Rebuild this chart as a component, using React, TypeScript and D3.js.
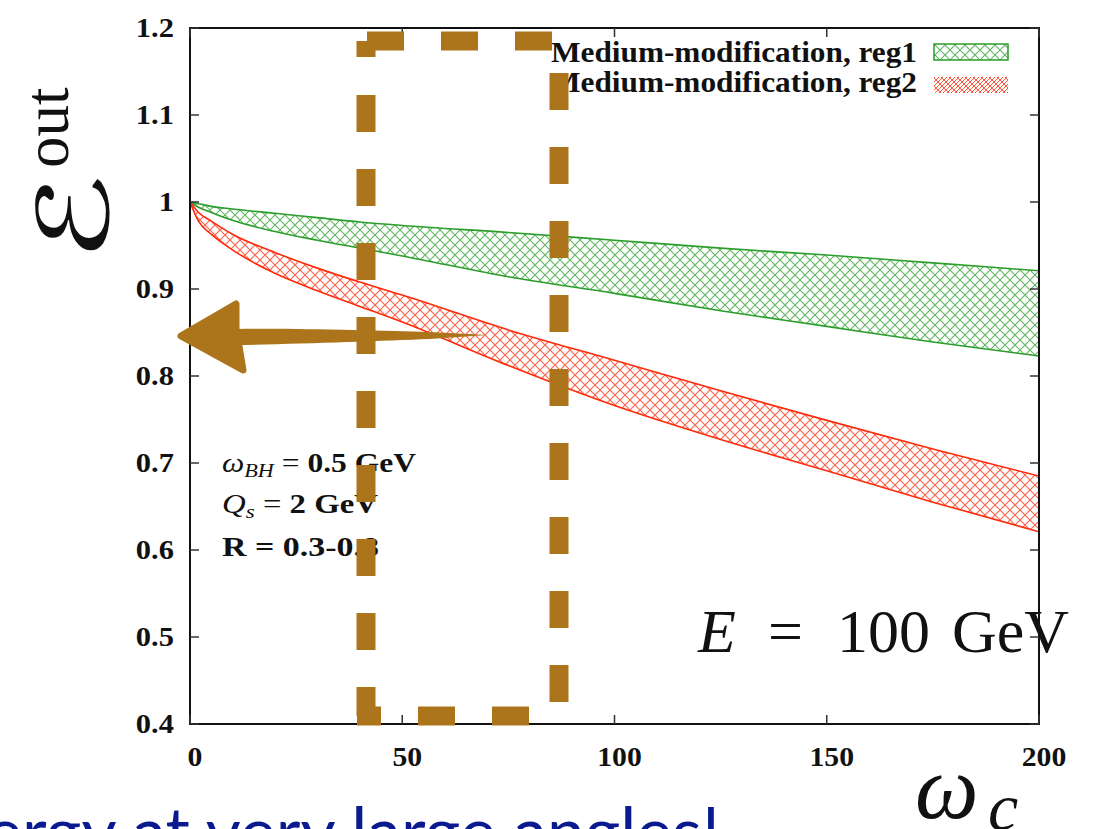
import React from "react";
import * as d3 from "d3";

// ---- data ----
const omegaC = [0, 2, 5, 10, 20, 30, 40, 50, 75, 100, 125, 150, 175, 200];
const reg1Upper = [1.0, 0.998, 0.995, 0.992, 0.987, 0.982, 0.977, 0.973, 0.965, 0.956, 0.947, 0.939, 0.93, 0.921];
const reg1Lower = [1.0, 0.994, 0.988, 0.979, 0.966, 0.956, 0.947, 0.938, 0.914, 0.895, 0.875, 0.857, 0.839, 0.823];
const reg2Upper = [1.0, 0.988, 0.978, 0.963, 0.942, 0.924, 0.908, 0.893, 0.853, 0.818, 0.783, 0.749, 0.716, 0.685];
const reg2Lower = [1.0, 0.978, 0.963, 0.945, 0.918, 0.898, 0.88, 0.862, 0.812, 0.766, 0.727, 0.691, 0.655, 0.621];

const xTicks = [0, 50, 100, 150, 200];
const yTicks = [0.4, 0.5, 0.6, 0.7, 0.8, 0.9, 1.0, 1.1, 1.2];
const legendLabels = ["Medium-modification, reg1", "Medium-modification, reg2"];

const W = 1105;
const H = 829;
const L = 190, R = 1039, T = 28, B = 724;

const GREEN = "#2a9d2a";
const RED = "#ff2a0a";
const BROWN = "#ad751b";

export default function App() {
  const x = d3.scaleLinear().domain([0, 200]).range([L, R]);
  const y = d3.scaleLinear().domain([0.4, 1.2]).range([B, T]);

  const band = (up: number[], lo: number[]) =>
    omegaC.map((v, i) => ({ x: v, u: up[i], l: lo[i] }));
  const area = d3
    .area<{ x: number; u: number; l: number }>()
    .x((d) => x(d.x))
    .y0((d) => y(d.l))
    .y1((d) => y(d.u))
    .curve(d3.curveMonotoneX);
  const lineU = d3
    .line<{ x: number; u: number; l: number }>()
    .x((d) => x(d.x))
    .y((d) => y(d.u))
    .curve(d3.curveMonotoneX);
  const lineL = d3
    .line<{ x: number; u: number; l: number }>()
    .x((d) => x(d.x))
    .y((d) => y(d.l))
    .curve(d3.curveMonotoneX);

  const b1 = band(reg1Upper, reg1Lower);
  const b2 = band(reg2Upper, reg2Lower);

  const serif = "'Liberation Serif', 'Times New Roman', serif";
  const fmtY = (v: number) => (Math.abs(v - 1) < 1e-9 ? "1" : d3.format(".1f")(v));

  return (
    <div style={{ position: "absolute", left: 0, top: 0 }}>
      <svg width={W} height={H} style={{ display: "block", background: "#fff" }}>
        <defs>
          <pattern id="hatchG" patternUnits="userSpaceOnUse" width="10" height="10">
            <path d="M0,0 L10,10 M10,0 L0,10" stroke={GREEN} strokeWidth="1.1" opacity="0.75" />
          </pattern>
          <pattern id="hatchR" patternUnits="userSpaceOnUse" width="10" height="10">
            <path d="M0,0 L10,10 M10,0 L0,10" stroke={RED} strokeWidth="1.1" opacity="0.75" />
          </pattern>
          <pattern id="hatchR2" patternUnits="userSpaceOnUse" width="8" height="8">
            <path d="M0,0 L8,8 M8,0 L0,8 M0,4 L4,0 M4,8 L8,4" stroke={RED} strokeWidth="1" opacity="0.8" />
          </pattern>
          <clipPath id="plotClip">
            <rect x={L} y={T} width={R - L} height={B - T} />
          </clipPath>
        </defs>

        {/* bands */}
        <g clipPath="url(#plotClip)">
          <path d={area(b1) || ""} fill="url(#hatchG)" />
          <path d={lineU(b1) || ""} fill="none" stroke={GREEN} strokeWidth={1.6} />
          <path d={lineL(b1) || ""} fill="none" stroke={GREEN} strokeWidth={1.6} />
          <path d={area(b2) || ""} fill="url(#hatchR)" />
          <path d={lineU(b2) || ""} fill="none" stroke={RED} strokeWidth={1.6} />
          <path d={lineL(b2) || ""} fill="none" stroke={RED} strokeWidth={1.6} />
        </g>

        {/* frame */}
        <rect x={L} y={T} width={R - L} height={B - T} fill="none" stroke="#111" strokeWidth={2} />

        {/* y ticks */}
        {yTicks.map((v) => (
          <g key={"y" + v}>
            <line x1={L} x2={L + 9} y1={y(v)} y2={y(v)} stroke="#333" strokeWidth={1.5} />
            <line x1={R - 9} x2={R} y1={y(v)} y2={y(v)} stroke="#333" strokeWidth={1.5} />
            <text
              transform={`translate(174,${y(v) + 9}) scale(1.13,1)`}
              textAnchor="end"
              fontFamily={serif}
              fontWeight="bold"
              fontSize={27}
              fill="#111"
            >
              {fmtY(v)}
            </text>
          </g>
        ))}

        {/* x ticks */}
        {xTicks.map((v) => (
          <g key={"x" + v}>
            <line x1={x(v)} x2={x(v)} y1={B} y2={B - 9} stroke="#333" strokeWidth={1.5} />
            <line x1={x(v)} x2={x(v)} y1={T} y2={T + 9} stroke="#333" strokeWidth={1.5} />
            <text
              transform={`translate(${x(v) + 5},766) scale(1.1,1)`}
              textAnchor="middle"
              fontFamily={serif}
              fontWeight="bold"
              fontSize={27}
              fill="#111"
            >
              {v}
            </text>
          </g>
        ))}

        {/* legend */}
        {legendLabels.map((lab, i) => (
          <g key={lab}>
            <text
              x={551}
              y={62 + i * 30}
              fontFamily={serif}
              fontWeight="bold"
              fontSize={30}
              fill="#111"
              textLength={366}
              lengthAdjust="spacingAndGlyphs"
            >
              {lab}
            </text>
            <rect
              x={934}
              y={44 + i * 33}
              width={74}
              height={16}
              fill={i === 0 ? "url(#hatchG)" : "url(#hatchR2)"}
              stroke={i === 0 ? GREEN : "none"}
              strokeWidth={1.5}
            />
          </g>
        ))}

        {/* parameter annotations */}
        <text x={222} y={472} fontFamily={serif} fontSize={27} fill="#111" textLength={194} lengthAdjust="spacingAndGlyphs">
          <tspan fontStyle="italic">ω</tspan>
          <tspan fontStyle="italic" fontSize={19} dy={5}>BH</tspan>
          <tspan dy={-5}> = </tspan>
          <tspan fontWeight="bold">0.5 GeV</tspan>
        </text>
        <text x={222} y={513} fontFamily={serif} fontSize={27} fill="#111" textLength={156} lengthAdjust="spacingAndGlyphs">
          <tspan fontStyle="italic">Q</tspan>
          <tspan fontStyle="italic" fontSize={19} dy={5}>s</tspan>
          <tspan dy={-5}> = </tspan>
          <tspan fontWeight="bold">2 GeV</tspan>
        </text>
        <text x={222} y={556} fontFamily={serif} fontSize={27} fontWeight="bold" fill="#111" textLength={157} lengthAdjust="spacingAndGlyphs">
          R = 0.3-0.8
        </text>

        {/* energy label */}
        <g fontFamily={serif} fontSize={62} fill="#111">
          <text x={698} y={652} fontStyle="italic">E</text>
          <text x={768} y={652}>=</text>
          <text x={837} y={652}>100</text>
          <text x={952} y={652}>GeV</text>
        </g>

        {/* axis titles */}
        <text
          transform="translate(108,262) rotate(-90) scale(1.5,1)"
          fontFamily="'DejaVu Serif', 'DejaVu Sans', serif"
          fontSize={98}
          fill="#111"
        >
          ℰ
        </text>
        <text transform="translate(68,168) rotate(-90)" fontFamily={serif} fontSize={63} fill="#111">
          out
        </text>
        <text x={915} y={818} fontFamily={serif} fontStyle="italic" fontSize={90} fill="#111">
          ω
        </text>
        <text x={988} y={830} fontFamily={serif} fontStyle="italic" fontSize={68} fill="#111">
          c
        </text>

        {/* overlay: dashed box */}
        <g stroke={BROWN} strokeWidth={19} fill="none" strokeLinecap="butt">
          <line x1={367} y1={41} x2={559} y2={41} strokeDasharray="37 37" />
          <line x1={559} y1={73} x2={559} y2={716} strokeDasharray="37 37" />
          <line x1={529} y1={716} x2={357} y2={716} strokeDasharray="37 37" />
          <line x1={366} y1={41} x2={366} y2={57} />
          <line x1={366} y1={95} x2={366} y2={716} strokeDasharray="37 37" />
        </g>

        {/* overlay: arrow */}
        <path
          d="M236,329 C300,328 380,331 430,332 L488,335 L430,339 C380,341 300,344 236,345 Z"
          fill={BROWN}
        />
        <path
          d="M181,336 L236,304 L236,332 L238,340 L243,370 Z"
          fill={BROWN}
          stroke={BROWN}
          strokeWidth={7}
          strokeLinejoin="round"
        />

        {/* blue caption (cut off) */}
        <text
          x={720}
          y={856}
          textAnchor="end"
          fontFamily="Lato, 'Open Sans', sans-serif"
          fontSize={68}
          fill="#0b1a8f"
        >
          energy at very large angles!
        </text>
      </svg>
    </div>
  );
}
